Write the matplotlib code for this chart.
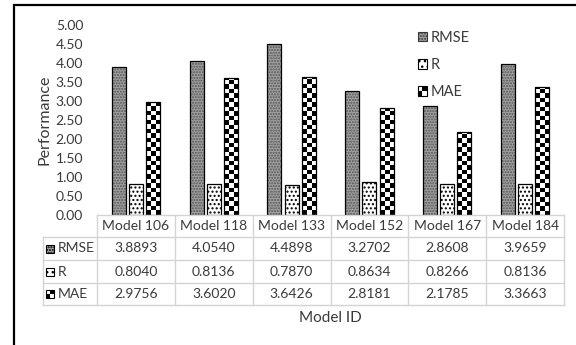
import numpy as np
import matplotlib.pyplot as plt
import matplotlib.transforms as mtransforms
from matplotlib.patches import Rectangle, Patch
from matplotlib.legend_handler import HandlerBase

plt.rcParams['font.family'] = ['Lato', 'DejaVu Sans']

models = ['Model 106', 'Model 118', 'Model 133', 'Model 152', 'Model 167', 'Model 184']
series = ['RMSE', 'R', 'MAE']
rmse = [3.8893, 4.0540, 4.4898, 3.2702, 2.8608, 3.9659]
r_vals = [0.8040, 0.8136, 0.7870, 0.8634, 0.8266, 0.8136]
mae = [2.9756, 3.6020, 3.6426, 2.8181, 2.1785, 3.3663]
yticks = np.arange(0, 5.01, 0.5)

TXT = '#3a3a3a'
GRID = '#d4d4d4'
W, H = 576, 345
fig = plt.figure(figsize=(W / 100, H / 100), dpi=100)


def fx(px):
    return px / W


def fy(py):
    return 1 - py / H


ax = fig.add_axes([fx(97), fy(215), fx(564) - fx(97), fy(25) - fy(215)])
ax.set_xlim(-0.5, 5.5)
ax.set_ylim(0, 5)

x = np.arange(len(models))
bw, off = 0.18, 0.22

# RMSE: grey stipple
ax.bar(x - off, rmse, bw, color='#a0a0a0', hatch='......', edgecolor='#555555', lw=0, zorder=2)
ax.bar(x - off, rmse, bw, fill=False, edgecolor='black', lw=0.9, zorder=4)
# R: white with black dots
ax.bar(x, r_vals, bw, color='white', hatch='....', edgecolor='black', lw=0.9, zorder=3)
# MAE: checkerboard
mae_bars = ax.bar(x + off, mae, bw, fill=False, edgecolor='black', lw=0.9, zorder=4)

p0 = ax.transData.transform((0, 0))
p1 = ax.transData.transform((1, 1))
cell = 4.5
sx, sy = cell / (p1[0] - p0[0]), cell / (p1[1] - p0[1])
for b in mae_bars:
    nx = int(np.ceil(b.get_width() / sx))
    ny = int(np.ceil(b.get_height() / sy))
    tile = np.indices((ny, nx)).sum(axis=0) % 2
    im = ax.imshow(tile, cmap='gray', vmin=0, vmax=1, origin='lower', aspect='auto',
                   interpolation='nearest', zorder=3,
                   extent=(b.get_x(), b.get_x() + nx * sx, 0, ny * sy))
    im.set_clip_path(b)
ax.set_xlim(-0.5, 5.5)
ax.set_ylim(0, 5)

for s in ax.spines.values():
    s.set_visible(False)
ax.set_xticks([])
ax.set_yticks(yticks)
ax.set_yticklabels([f'{v:.2f}' for v in yticks])
ax.tick_params(axis='y', length=0, pad=10, labelsize=10, labelcolor=TXT)

fig.text(fx(45), fy(120), 'Performance', rotation=90, ha='center', va='center',
         fontsize=11.5, color=TXT)


class CheckerHandler(HandlerBase):
    def create_artists(self, legend, orig_handle, xdescent, ydescent, width, height,
                       fontsize, trans):
        arts = []
        for i in range(2):
            for j in range(2):
                arts.append(Rectangle((-xdescent + i * width / 2, -ydescent + j * height / 2),
                                      width / 2, height / 2, lw=0, transform=trans,
                                      facecolor='black' if (i + j) % 2 == 0 else 'white'))
        arts.append(Rectangle((-xdescent, -ydescent), width, height, fill=False,
                              ec='black', lw=0.8, transform=trans))
        return arts


h_rmse = Patch(facecolor='#a0a0a0', hatch='......', edgecolor='#3a3a3a', lw=0.8)
h_r = Patch(facecolor='white', hatch='...', edgecolor='black', lw=0.8)
h_mae = Patch(facecolor='white', edgecolor='black')
ax.legend([h_rmse, h_r, h_mae], series, handler_map={h_mae: CheckerHandler()},
          loc='upper left', bbox_to_anchor=(fx(418), fy(31)), bbox_transform=fig.transFigure,
          frameon=False, handlelength=0.6, handleheight=0.6, handletextpad=0.3,
          labelspacing=0.9, borderaxespad=0, borderpad=0, fontsize=10.5,
          labelcolor=TXT)

# data table under the axis
bt = mtransforms.blended_transform_factory(ax.transData, fig.transFigure)
rows_y = [215, 237, 260, 283, 305]
for i, yy in enumerate(rows_y):
    x_start = fx(97) if i == 0 else fx(43)
    fig.add_artist(plt.Line2D([x_start, fx(564)], [fy(yy), fy(yy)], color=GRID, lw=1,
                              transform=fig.transFigure))
fig.add_artist(plt.Line2D([fx(43), fx(43)], [fy(237), fy(305)], color=GRID, lw=1,
                          transform=fig.transFigure))
for k in range(len(models) + 1):
    ax.add_artist(plt.Line2D([k - 0.5, k - 0.5], [fy(215), fy(305)], color=GRID, lw=1,
                             transform=bt, clip_on=False))

centers = [(rows_y[i] + rows_y[i + 1]) / 2 for i in range(4)]
for k, m in enumerate(models):
    ax.text(k, fy(centers[0]), m, transform=bt, ha='center', va='center',
            fontsize=10, color=TXT)
for r, (name, vals) in enumerate(zip(series, [rmse, r_vals, mae])):
    yc = centers[r + 1]
    for k, v in enumerate(vals):
        ax.text(k, fy(yc), f'{v:.4f}', transform=bt, ha='center', va='center',
                fontsize=10, color=TXT)
    fig.text(fx(58), fy(yc), name, ha='left', va='center', fontsize=10, color=TXT)
    kx, ky, ks = fx(46), fy(yc + 4), 8
    if name == 'MAE':
        for i in range(2):
            for j in range(2):
                fig.add_artist(Rectangle((kx + i * fx(ks / 2), ky + j * (ks / 2) / H),
                                         fx(ks / 2), (ks / 2) / H, lw=0,
                                         facecolor='black' if (i + j) % 2 == 0 else 'white',
                                         transform=fig.transFigure))
        fig.add_artist(Rectangle((kx, ky), fx(ks), ks / H, fill=False, ec='black', lw=0.8,
                                 transform=fig.transFigure))
    else:
        hp = h_rmse if name == 'RMSE' else h_r
        fig.add_artist(Rectangle((kx, ky), fx(ks), ks / H, facecolor=hp.get_facecolor(),
                                 hatch=hp.get_hatch(), edgecolor='black', lw=0.8,
                                 transform=fig.transFigure))

fig.text(fx(330), fy(318), 'Model ID', ha='center', va='center', fontsize=11, color=TXT)

# outer frame
fig.add_artist(Rectangle((fx(14), -0.2), 1.2, fy(5) + 0.2, fill=False, ec='black', lw=1.6,
                         transform=fig.transFigure))

fig.savefig('out.png', dpi=100)
